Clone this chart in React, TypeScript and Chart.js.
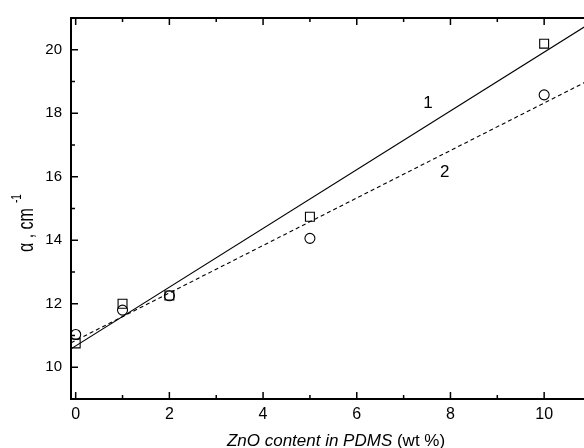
import React, { useEffect, useRef } from 'react';
import { Chart, registerables } from 'chart.js';

Chart.register(...registerables);

// ZnO content (wt %) for the measured samples
const zincOxideContent = [0, 1, 2, 5, 10];
// absorption coefficient, series 1 (squares) and series 2 (circles), cm^-1
const alphaSeries1 = [10.75, 12.0, 12.26, 14.74, 20.19];
const alphaSeries2 = [11.03, 11.8, 12.25, 14.06, 18.58];
// linear fits, evaluated at the ends of the x range
const fitContent = [-0.1, 11];
const fitSeries1 = [10.58, 20.85];
const fitSeries2 = [10.77, 19.07];
// axis ticks
const xMajorTicks = [0, 2, 4, 6, 8, 10];
const xMinorTicks = [1, 3, 5, 7, 9];
const yMajorTicks = [10, 12, 14, 16, 18, 20];
const yMinorTicks = [11, 13, 15, 17, 19];
// curve numbers
const curveNames = ['1', '2'];
const curveNameX = [7.52, 7.88];
const curveNameY = [18.3, 16.15];

const FONT = '"Liberation Sans", Arial, sans-serif';

const toPoints = (xs: number[], ys: number[]) => xs.map((x, i) => ({ x, y: ys[i] }));

const framePlugin = {
  id: 'frameAndTitles',
  afterDraw(chart: any) {
    const { ctx, chartArea: a, scales } = chart;
    const xs = scales.x;
    const ys = scales.y;
    ctx.save();
    ctx.strokeStyle = '#000';
    ctx.fillStyle = '#000';

    // inward ticks on all four sides
    ctx.lineWidth = 1.5;
    const drawX = (v: number, len: number) => {
      const px = xs.getPixelForValue(v);
      ctx.beginPath();
      ctx.moveTo(px, a.bottom);
      ctx.lineTo(px, a.bottom - len);
      ctx.moveTo(px, a.top);
      ctx.lineTo(px, a.top + len);
      ctx.stroke();
    };
    const drawY = (v: number, len: number) => {
      const py = ys.getPixelForValue(v);
      ctx.beginPath();
      ctx.moveTo(a.left, py);
      ctx.lineTo(a.left + len, py);
      ctx.moveTo(a.right, py);
      ctx.lineTo(a.right - len, py);
      ctx.stroke();
    };
    xMajorTicks.forEach((v) => drawX(v, 7));
    xMinorTicks.forEach((v) => drawX(v, 4));
    yMajorTicks.forEach((v) => drawY(v, 7));
    yMinorTicks.forEach((v) => drawY(v, 4));

    // frame
    ctx.lineWidth = 2;
    ctx.strokeRect(a.left, a.top, a.right - a.left, a.bottom - a.top);

    // curve numbers
    ctx.font = `17px ${FONT}`;
    ctx.textAlign = 'center';
    ctx.textBaseline = 'middle';
    curveNames.forEach((name, i) => {
      ctx.fillText(name, xs.getPixelForValue(curveNameX[i]), ys.getPixelForValue(curveNameY[i]));
    });

    // x axis title
    const italicPart = 'ZnO content in PDMS';
    const plainPart = ' (wt %)';
    ctx.textBaseline = 'alphabetic';
    ctx.textAlign = 'left';
    ctx.font = `italic 17px ${FONT}`;
    const wItalic = ctx.measureText(italicPart).width;
    ctx.font = `17px ${FONT}`;
    const wPlain = ctx.measureText(plainPart).width;
    const startX = (a.left + a.right) / 2 + 5 - (wItalic + wPlain) / 2;
    ctx.font = `italic 17px ${FONT}`;
    ctx.fillText(italicPart, startX, 446);
    ctx.font = `17px ${FONT}`;
    ctx.fillText(plainPart, startX + wItalic, 446);

    // y axis title, rotated
    ctx.save();
    ctx.translate(32.5, 252);
    ctx.rotate(-Math.PI / 2);
    ctx.scale(1, 1.4);
    ctx.font = `16px ${FONT}`;
    const main = 'α , cm';
    ctx.fillText(main, 0, 0);
    const wMain = ctx.measureText(main).width;
    ctx.font = `10px ${FONT}`;
    ctx.fillText('-1', wMain + 5, -8);
    ctx.restore();

    ctx.restore();
  },
};

export default function App() {
  const canvasRef = useRef<HTMLCanvasElement | null>(null);

  useEffect(() => {
    document.body.style.margin = '0';
    const canvas = canvasRef.current;
    if (!canvas) return;
    const chart = new Chart(canvas, {
      type: 'scatter',
      data: {
        datasets: [
          {
            type: 'line',
            data: toPoints(fitContent, fitSeries1),
            borderColor: '#000',
            borderWidth: 1.2,
            pointRadius: 0,
            fill: false,
          },
          {
            type: 'line',
            data: toPoints(fitContent, fitSeries2),
            borderColor: '#000',
            borderWidth: 1.1,
            borderDash: [4, 3],
            pointRadius: 0,
            fill: false,
          },
          {
            data: toPoints(zincOxideContent, alphaSeries1),
            pointStyle: 'rect',
            pointRadius: 6.3,
            borderColor: '#000',
            backgroundColor: 'rgba(0,0,0,0)',
            borderWidth: 1.1,
          },
          {
            data: toPoints(zincOxideContent, alphaSeries2),
            pointStyle: 'circle',
            pointRadius: 5,
            borderColor: '#000',
            backgroundColor: 'rgba(0,0,0,0)',
            borderWidth: 1.1,
          },
        ],
      },
      options: {
        animation: false,
        responsive: false,
        maintainAspectRatio: false,
        events: [],
        layout: { padding: { top: 16, right: 9, left: 0, bottom: 0 } },
        plugins: {
          legend: { display: false },
          tooltip: { enabled: false },
        },
        scales: {
          x: {
            type: 'linear',
            min: -0.1,
            max: 11,
            grid: { display: false, drawTicks: false },
            border: { display: false },
            afterBuildTicks: (scale: any) => {
              scale.ticks = xMajorTicks.map((value) => ({ value }));
            },
            afterFit: (scale: any) => {
              scale.height = 49;
            },
            ticks: {
              color: '#000',
              padding: 6,
              maxRotation: 0,
              autoSkip: false,
              font: { family: FONT, size: 16 },
              callback: (v: any) => String(v),
            },
          },
          y: {
            type: 'linear',
            min: 9,
            max: 21,
            grid: { display: false, drawTicks: false },
            border: { display: false },
            afterBuildTicks: (scale: any) => {
              scale.ticks = yMajorTicks.map((value) => ({ value }));
            },
            afterFit: (scale: any) => {
              scale.width = 71;
            },
            ticks: {
              color: '#000',
              padding: 9,
              autoSkip: false,
              font: { family: FONT, size: 15 },
              callback: (v: any) => String(v),
            },
          },
        },
      },
      plugins: [framePlugin],
    });
    return () => chart.destroy();
  }, []);

  return (
    <div style={{ width: 584, height: 448, overflow: 'hidden', background: '#fff' }}>
      <canvas ref={canvasRef} width={600} height={448} style={{ display: 'block' }} />
    </div>
  );
}
